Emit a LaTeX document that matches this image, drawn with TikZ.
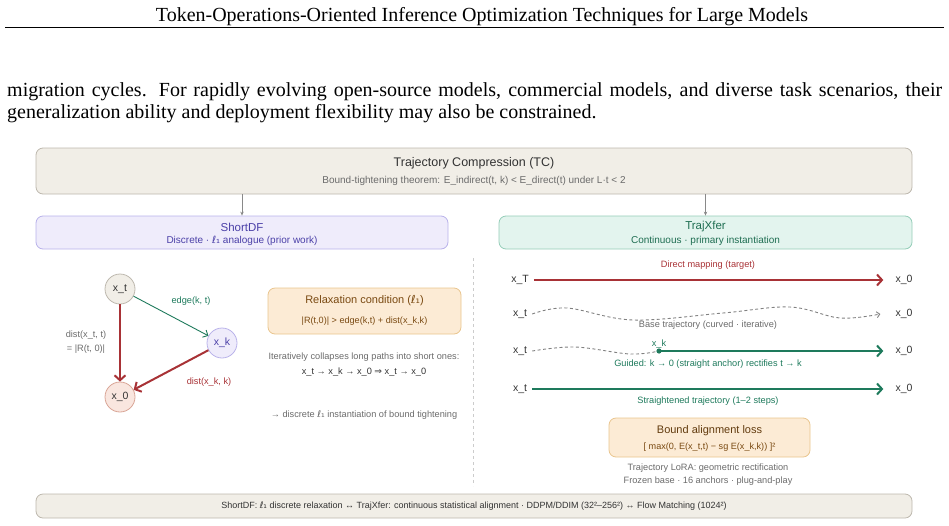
\documentclass[tikz,border=0pt]{standalone}
\usepackage{fontspec}
\setmainfont{Liberation Sans}
\newfontfamily\pagefont{Liberation Serif}
\newfontfamily\symfont{DejaVu Sans}
\usepackage{tikz}
\usetikzlibrary{arrows.meta,positioning,calc}
\definecolor{clInk}{HTML}{333333}
\definecolor{clMuted}{HTML}{6B6B6B}
\definecolor{clFrame}{HTML}{BDB8AE}
\definecolor{clFrameFill}{HTML}{F1EEE7}
\definecolor{clShort}{HTML}{4B40A8}
\definecolor{clShortLine}{HTML}{B9B2EA}
\definecolor{clShortFill}{HTML}{EFECFB}
\definecolor{clTraj}{HTML}{1F6E52}
\definecolor{clTrajLine}{HTML}{94CDB8}
\definecolor{clTrajFill}{HTML}{E3F4EE}
\definecolor{clRelax}{HTML}{7A4A12}
\definecolor{clRelaxLine}{HTML}{E9C58E}
\definecolor{clRelaxFill}{HTML}{FCEBD5}
\definecolor{clRed}{HTML}{A83236}
\definecolor{clGreen}{HTML}{1E7A5C}
\definecolor{clZeroLine}{HTML}{D9A596}
\definecolor{clZeroFill}{HTML}{F9E6DF}
\newcommand{\fsz}[1]{\fontsize{#1}{#1}\selectfont}
\newcommand{\ellone}{{\symfont ℓ₁}}
\tikzset{
  panel/.style={rectangle, rounded corners=7pt, draw, line width=0.8pt, inner sep=0pt},
  tcbox/.style={panel, draw=clFrame, fill=clFrameFill},
  shortbox/.style={panel, draw=clShortLine, fill=clShortFill},
  trajbox/.style={panel, draw=clTrajLine, fill=clTrajFill},
  relaxbox/.style={panel, draw=clRelaxLine, fill=clRelaxFill},
  vertex/.style={circle, minimum size=30pt, inner sep=0pt, line width=0.8pt, font=\fsz{10.5}, text=clInk},
  lbl/.style={inner sep=1pt, font=\fsz{9.2}, text=clMuted},
  endpt/.style={inner sep=5pt, font=\fsz{10.5}, text=clInk},
  pagehead/.style={inner sep=0pt, font=\pagefont\fsz{20}},
  bodytext/.style={inner sep=0pt, font=\pagefont\fsz{20}},
  link/.style={-{Stealth[length=4pt,width=3.5pt]}, line width=0.8pt, draw=clMuted!80},
  redflow/.style={-{Straight Barb[length=5pt,width=11pt]}, line width=2pt, draw=clRed},
  greenflow/.style={-{Straight Barb[length=5pt,width=11pt]}, line width=2pt, draw=clGreen},
  thinflow/.style={-{Straight Barb[length=4pt,width=8pt]}, line width=0.9pt, draw=clGreen},
  basepath/.style={-{Straight Barb[length=3pt,width=6pt]}, dashed, dash pattern=on 3pt off 2.5pt, line width=0.9pt, draw=clMuted!85},
}
\begin{document}
\begin{tikzpicture}[x=1pt, y=-1pt]
  \useasboundingbox (0,0) rectangle (949,525);
  % page text
  \node[pagehead, anchor=base] (head) at (482,21.5) {Token-Operations-Oriented Inference Optimization Techniques for Large Models};
  \draw[line width=1.1pt] (5,27.5) -- (944,27.5);
  \node[bodytext, anchor=base west] (par1) at (7,96) {\makebox[935pt][s]{migration cycles. For rapidly evolving open-source models, commercial models, and diverse task scenarios, their}};
  \node[bodytext, anchor=base west] (par2) at (7,118) {generalization ability and deployment flexibility may also be constrained.};

  % trajectory compression (top)
  \node[tcbox, minimum width=876pt, minimum height=46pt] (tc) at (474,171) {};
  \node[font=\fsz{12.5}, text=clInk] (tcTitle) at (474,163) {Trajectory Compression (TC)};
  \node[font=\fsz{10}, text=clMuted] (tcSub) at (474,181) {Bound-tightening theorem: E\_indirect(t, k) < E\_direct(t) under L·t < 2};

  \node[shortbox, minimum width=412pt, minimum height=33pt] (short) at (242,232.5) {};
  \node[font=\fsz{11.5}, text=clShort] (shortTitle) at (242,227) {ShortDF};
  \node[font=\fsz{10}, text=clShort] (shortSub) at (242,241) {Discrete · \ellone{} analogue (prior work)};

  \node[trajbox, minimum width=413pt, minimum height=33pt] (traj) at (705.5,232.5) {};
  \node[font=\fsz{11.5}, text=clTraj] (trajTitle) at (705.5,227) {TrajXfer};
  \node[font=\fsz{10}, text=clTraj] (trajSub) at (705.5,241) {Continuous · primary instantiation};

  \draw[link] (tc.south -| short.north) -- (short.north);
  \draw[link] (tc.south -| traj.north) -- (traj.north);

  % divider
  \coordinate (sepTop) at (473,258);
  \coordinate (sepBot) at (473,486);
  \draw[dashed, dash pattern=on 3pt off 3pt, line width=0.6pt, draw=black!20] (sepTop) -- (sepBot);

  % shortdf graph
  \node[vertex, draw=clFrame, fill=clFrameFill] (xt) at (120,289) {x\_t};
  \node[vertex, draw=clShortLine, fill=clShortFill, text=clShort] (xk) at (222,343) {x\_k};
  \node[vertex, draw=clZeroLine, fill=clZeroFill] (x0) at (120,397) {x\_0};
  \draw[redflow] (xt) -- (x0);
  \draw[thinflow] (xt) -- (xk);
  \draw[redflow] (xk) -- (x0);
  \node[lbl, align=center, font=\fontsize{9.2}{14}\selectfont] (distT) at (86,342) {dist(x\_t, t)\\= |R(t, 0)|};
  \node[lbl, text=clGreen] (edgeKT) at (191,301) {edge(k, t)};
  \node[lbl, text=clRed] (distK) at (209,382) {dist(x\_k, k)};

  \node[relaxbox, minimum width=193pt, minimum height=46pt] (relax) at (364.5,311) {};
  \node[font=\fsz{11}, text=clRelax] (relaxTitle) at (364.5,301) {Relaxation condition (\ellone)};
  \node[font=\fsz{9.1}, text=clRelax] (relaxRule) at (364.5,321) {|R(t,0)| > edge(k,t) + dist(x\_k,k)};
  \node[lbl] (collapse) at (364,357) {Iteratively collapses long paths into short ones:};
  \node[lbl, text=clInk] (chain) at (364,372) {x\_t → x\_k → x\_0 {\symfont ⇒} x\_t → x\_0};
  \node[lbl] (discrete) at (364,415) {→ discrete \ellone{} instantiation of bound tightening};

  % trajxfer rows
  \node[lbl, text=clRed] (directLbl) at (708,265) {Direct mapping (target)};
  \node[endpt] (rowAs) at (520,280) {x\_T};
  \node[endpt] (rowAe) at (904,280) {x\_0};
  \draw[redflow, shorten >=7pt] (rowAs) -- (rowAe);

  \node[endpt] (rowBs) at (520,314) {x\_t};
  \node[endpt] (rowBe) at (904,314) {x\_0};
  \draw[basepath] plot[smooth, tension=0.6] coordinates {(rowBs.east) (567,308) (633,320) (723,313) (790,307) (840,318) ([xshift=-10pt]rowBe.west)};
  \node[lbl] (baseLbl) at (708,325) {Base trajectory (curved · iterative)};

  \node[endpt] (rowCs) at (520,351) {x\_t};
  \node[endpt] (rowCe) at (904,351) {x\_0};
  \coordinate (kdot) at (659,351);
  \draw[basepath, -] plot[smooth, tension=0.6] coordinates {(rowCs.east) (575,347) (630,354) (kdot)};
  \draw[greenflow, shorten >=7pt] (kdot) -- (rowCe);
  \fill[clGreen] (kdot) circle (2.6pt);
  \node[lbl, text=clGreen, above=1pt of kdot] (kLbl) {x\_k};
  \node[lbl, text=clGreen] (guideLbl) at (708,364) {Guided: k → 0 (straight anchor) rectifies t → k};

  \node[endpt] (rowDs) at (520,389) {x\_t};
  \node[endpt] (rowDe) at (904,389) {x\_0};
  \draw[greenflow, shorten >=7pt] (rowDs) -- (rowDe);
  \node[lbl, text=clGreen] (straightLbl) at (708,401) {Straightened trajectory (1–2 steps)};

  \node[relaxbox, minimum width=201pt, minimum height=39pt] (loss) at (709.5,437.5) {};
  \node[font=\fsz{11}, text=clRelax!80!black] (lossTitle) at (709.5,431) {Bound alignment loss};
  \node[font=\fsz{9.1}, text=clRelax] (lossEq) at (709.5,447) {[ max(0, E(x\_t,t) − sg E(x\_k,k)) ]²};
  \node[lbl] (loraA) at (708,468) {Trajectory LoRA: geometric rectification};
  \node[lbl] (loraB) at (708,481) {Frozen base · 16 anchors · plug-and-play};

  % summary (bottom)
  \node[tcbox, minimum width=876pt, minimum height=24pt, font=\fsz{9}, text=clInk] (summary) at (474,506) {ShortDF: \ellone{} discrete relaxation ↔ TrajXfer: continuous statistical alignment · DDPM/DDIM (32²–256²) ↔ Flow Matching (1024²)};
\end{tikzpicture}
\end{document}
